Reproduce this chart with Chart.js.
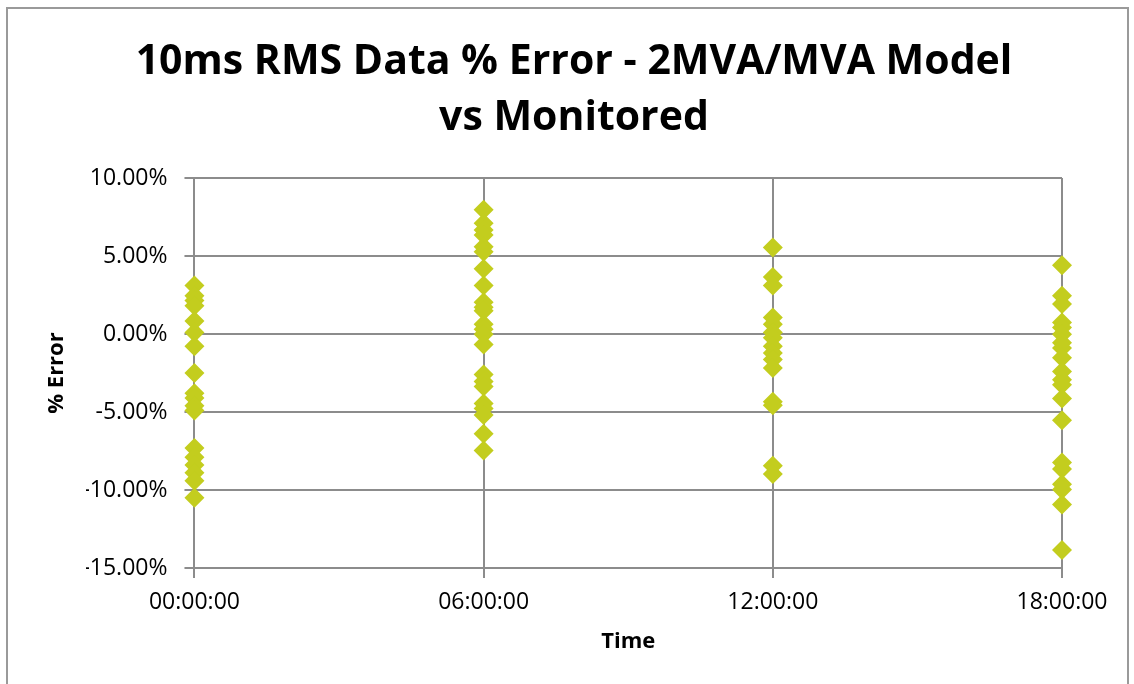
<!DOCTYPE html>
<html>
<head>
<meta charset="utf-8">
<script src="https://cdn.jsdelivr.net/npm/chart.js@4/dist/chart.umd.min.js"></script>
<style>
    html, body { margin: 0; padding: 0; background: #fff; }
    #wrap { position: relative; width: 1134px; height: 684px; overflow: hidden; }
    #frame { position: absolute; left: 6px; top: 7px; width: 1119px; height: 700px; border: 2px solid #9a9a9a; }
    #chart { position: absolute; left: 0; top: 0; }
</style>
</head>
<body>
<div id="wrap">
    <div id="frame"></div>
    <canvas id="chart" width="1134" height="684"></canvas>
</div>
<script>
// time of each column, hours after midnight
const times = [0, 6, 12, 18];
const timeLabels = ['00:00:00', '06:00:00', '12:00:00', '18:00:00'];

// % error readings at each time
const err00 = [3.11, 2.46, 2.14, 1.81, 0.84, 0.09, -0.78, -2.5, -3.8, -4.1, -4.6, -4.9, -7.3, -7.9, -8.4, -8.9, -9.4, -10.5];
const err06 = [7.97, 7.1, 6.67, 6.35, 5.6, 5.27, 4.19, 3.11, 2.03, 1.71, 1.49, 0.63, 0.3, -0.02, -0.67, -2.6, -3.05, -3.37, -4.45, -4.77, -5.2, -6.4, -7.47];
const err12 = [5.55, 3.65, 3.11, 1.06, 0.63, 0.09, -0.24, -0.78, -1.21, -1.64, -2.18, -4.34, -4.56, -8.44, -8.98];
const err18 = [4.4, 2.46, 1.92, 0.73, 0.41, -0.02, -0.56, -0.89, -1.53, -2.4, -2.94, -3.26, -4.13, -5.53, -8.23, -8.66, -9.63, -9.96, -10.93, -13.84];

const yTicks = [-15, -10, -5, 0, 5, 10];

let points = [];
[err00, err06, err12, err18].forEach((list, i) => {
    list.forEach(v => points.push({ x: times[i], y: v }));
});

const gridColor = '#8c8c8c';
const fontFamily = "'Open Sans', 'Liberation Sans', sans-serif";

new Chart(document.getElementById('chart').getContext('2d'), {
    type: 'scatter',
    data: {
        datasets: [{
            label: '% Error',
            data: points,
            pointStyle: 'rectRot',
            pointRadius: 10,
            pointHoverRadius: 10,
            pointBorderWidth: 0,
            backgroundColor: '#c3cd1e',
            borderColor: '#c3cd1e',
            clip: false
        }]
    },
    options: {
        responsive: false,
        animation: false,
        layout: {
            // left padding is wide so the title centres like the original;
            // the y title is pulled back into it with a negative padding below
            padding: { left: 86, right: 72, top: 14, bottom: 29 }
        },
        plugins: {
            legend: { display: false },
            tooltip: { enabled: false },
            title: {
                display: true,
                text: ['10ms RMS Data % Error - 2MVA/MVA Model', 'vs Monitored'],
                color: '#000',
                font: { family: fontFamily, size: 41, weight: 'bold', lineHeight: 1.366 },
                padding: { top: 20, bottom: 32 }
            }
        },
        scales: {
            x: {
                type: 'linear',
                min: times[0],
                max: times[times.length - 1],
                afterBuildTicks: scale => {
                    scale.ticks = times.map(t => ({ value: t }));
                },
                ticks: {
                    color: '#000',
                    font: { family: fontFamily, size: 23 },
                    padding: 11,
                    maxRotation: 0,
                    callback: (value) => timeLabels[times.indexOf(value)]
                },
                grid: { color: gridColor, lineWidth: 2, tickLength: 10 },
                border: { color: gridColor, width: 2 },
                title: {
                    display: true,
                    text: 'Time',
                    color: '#000',
                    font: { family: fontFamily, size: 22, weight: 'bold' },
                    padding: { top: 1, bottom: 0 }
                }
            },
            y: {
                min: yTicks[0],
                max: yTicks[yTicks.length - 1],
                afterBuildTicks: scale => {
                    scale.ticks = yTicks.map(t => ({ value: t }));
                },
                ticks: {
                    color: '#000',
                    font: { family: fontFamily, size: 23 },
                    padding: 17,
                    callback: (value) => value.toFixed(2) + '%'
                },
                grid: { color: gridColor, lineWidth: 2, tickLength: 10 },
                border: { color: gridColor, width: 2 },
                title: {
                    display: true,
                    text: '% Error',
                    color: '#000',
                    font: { family: fontFamily, size: 22, weight: 'bold' },
                    padding: { top: -42, bottom: -5 }
                }
            }
        }
    }
});
</script>
</body>
</html>
